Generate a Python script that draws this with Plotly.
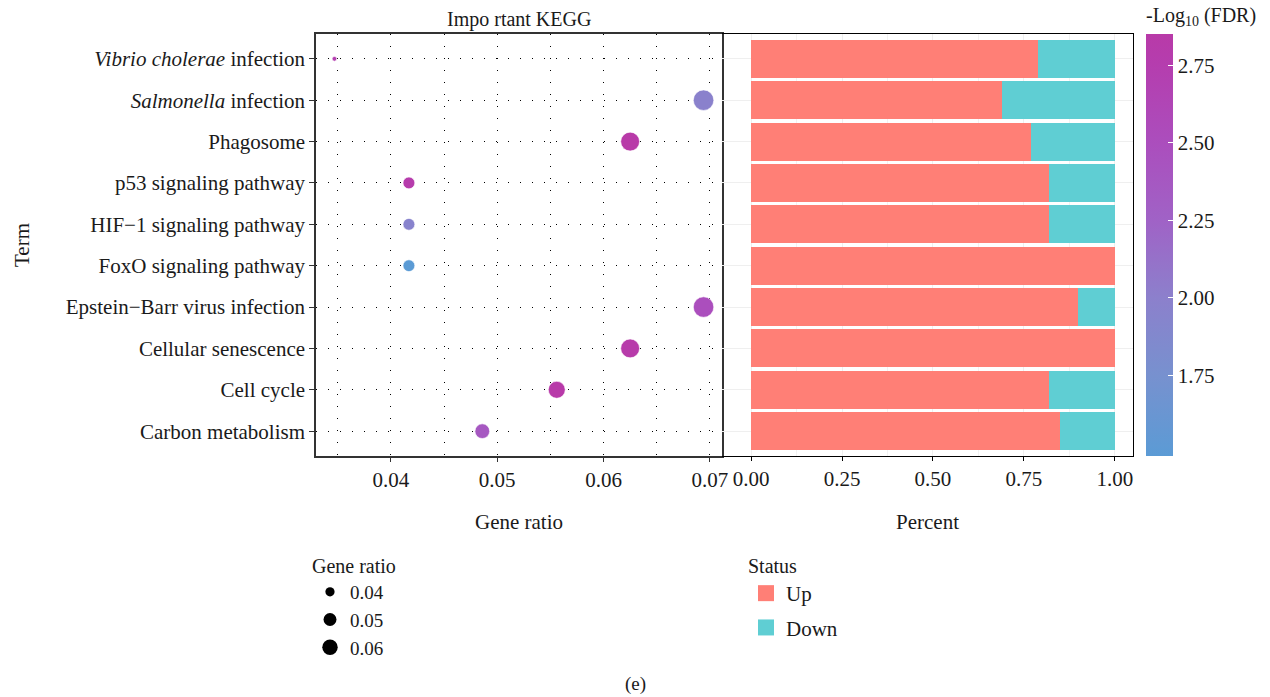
import numpy as np
import plotly.graph_objects as go

# ---------------- data ----------------
terms = ["Carbon metabolism", "Cell cycle", "Cellular senescence",
         "Epstein\u2212Barr virus infection", "FoxO signaling pathway",
         "HIF\u22121 signaling pathway", "p53 signaling pathway", "Phagosome",
         "Salmonella infection", "Vibrio cholerae infection"]
term_labels = ["Carbon metabolism", "Cell cycle", "Cellular senescence",
               "Epstein\u2212Barr virus infection", "FoxO signaling pathway",
               "HIF\u22121 signaling pathway", "p53 signaling pathway", "Phagosome",
               "<i>Salmonella</i> infection", "<i>Vibrio cholerae</i> infection"]
gene_ratio = [0.0486, 0.0556, 0.0625, 0.0694, 0.0417, 0.0417, 0.0417, 0.0625, 0.0694, 0.0347]
neg_log_fdr = [2.38, 2.84, 2.82, 2.50, 1.49, 1.95, 2.78, 2.85, 1.98, 2.72]
up_frac = [0.85, 0.82, 1.00, 0.90, 1.00, 0.82, 0.82, 0.77, 0.69, 0.79]
down_frac = [1 - u for u in up_frac]

size_legend_vals = [0.04, 0.05, 0.06]
status_names = ["Up", "Down"]

x1_ticks = [0.04, 0.05, 0.06, 0.07]
x2_ticks = [0.0, 0.25, 0.5, 0.75, 1.0]
cb_ticks = [1.75, 2.0, 2.25, 2.5, 2.75]

# ---------------- style ----------------
FONT = "Liberation Serif"
TXT = "#1a1a1a"
UP_COL = "#FF7F76"
DOWN_COL = "#5FCED3"
colorscale = [[0.0, "#5B9BD5"], [0.19, "#7791CF"], [0.375, "#8C80CC"],
              [0.56, "#A062C6"], [0.74, "#AB4EBD"], [0.93, "#B53DAE"], [1.0, "#B83AA8"]]
DMIN, DMAX = 4.7, 20.5
rmin, rmax = min(gene_ratio), max(gene_ratio)


def dot_size(r):
    t = np.clip((np.asarray(r, dtype=float) - rmin) / (rmax - rmin), 0, 1)
    return DMIN + (DMAX - DMIN) * np.sqrt(t)


W, H = 1270, 697
px = lambda v: v / W
py = lambda v: 1 - v / H

dot_dom = [px(316), px(722)]
bar_dom = [px(722), px(1133)]
y_dom = [py(456), py(34)]

fig = go.Figure()

# dot plot
fig.add_trace(go.Scatter(
    x=gene_ratio, y=terms, mode="markers", xaxis="x", yaxis="y",
    marker=dict(size=dot_size(gene_ratio), color=neg_log_fdr, colorscale=colorscale,
                line=dict(color="white", width=0.6), opacity=1,
                colorbar=dict(
                    title=dict(text="-Log<sub>10</sub> (FDR)", side="top",
                               font=dict(family=FONT, size=20, color=TXT)),
                    x=px(1146), xanchor="left", y=py(4), yanchor="top",
                    len=(456 - 4) / H, lenmode="fraction", thickness=27,
                    outlinewidth=0, tickvals=cb_ticks, tickformat=".2f",
                    ticks="inside", ticklen=5, tickcolor="white", tickwidth=1,
                    tickfont=dict(family=FONT, size=21, color=TXT), xpad=0, ypad=0)),
    showlegend=False, hoverinfo="x+y"))

# bars
fig.add_trace(go.Bar(x=up_frac, y=terms, orientation="h", xaxis="x2", yaxis="y2",
                     marker=dict(color=UP_COL, line=dict(width=0)), width=0.92,
                     name="Up", showlegend=False))
fig.add_trace(go.Bar(x=down_frac, y=terms, orientation="h", xaxis="x2", yaxis="y2",
                     marker=dict(color=DOWN_COL, line=dict(width=0)), width=0.92,
                     name="Down", showlegend=False))

# size legend
for v in size_legend_vals:
    fig.add_trace(go.Scatter(x=[None], y=[None], mode="markers", xaxis="x", yaxis="y",
                             marker=dict(size=float(dot_size(v)) * 0.85, color="black"),
                             name=f"{v:.2f}", legend="legend", legendgroup=f"g{v}",
                             showlegend=True))
# status legend
for nm, col in zip(status_names, [UP_COL, DOWN_COL]):
    fig.add_trace(go.Scatter(x=[None], y=[None], mode="markers", xaxis="x2", yaxis="y2",
                             marker=dict(size=20, color=col, symbol="square"),
                             name=nm, legend="legend2", legendgroup=nm, showlegend=True))

dot_grid = "1px,11px"
rng_pad = 0.05 * (rmax - rmin)
TICK_FS = 21

fig.update_layout(
    width=W, height=H, margin=dict(l=0, r=0, t=0, b=0, autoexpand=False),
    paper_bgcolor="white", plot_bgcolor="white",
    font=dict(family=FONT, color=TXT, size=20),
    barmode="stack", bargap=0,
    xaxis=dict(domain=dot_dom, anchor="y", range=[rmin - rng_pad, rmax + rng_pad],
               tickvals=x1_ticks, tickformat=".2f", ticks="outside", ticklen=4,
               tickcolor="#333", showline=True, linecolor="#333", linewidth=1.5, mirror=True,
               showgrid=True, gridcolor="black", gridwidth=1, griddash=dot_grid,
               minor=dict(dtick=0.005, tick0=0.035, showgrid=True, gridcolor="black",
                          gridwidth=1, griddash=dot_grid, ticks=""),
               tickfont=dict(family=FONT, size=TICK_FS, color=TXT), zeroline=False),
    yaxis=dict(domain=y_dom, anchor="x", type="category", categoryorder="array",
               categoryarray=terms, range=[-0.6, len(terms) - 0.4],
               tickmode="array", tickvals=terms, ticktext=term_labels,
               ticks="outside", ticklen=5, tickcolor="#333",
               showline=True, linecolor="#333", linewidth=1.5, mirror=True,
               showgrid=True, gridcolor="black", gridwidth=1, griddash=dot_grid,
               tickfont=dict(family=FONT, size=TICK_FS, color=TXT), zeroline=False),
    xaxis2=dict(domain=bar_dom, anchor="y2", range=[-0.08, 1.05],
                tickvals=x2_ticks, tickformat=".2f", ticks="outside", ticklen=4,
                tickcolor="black", showline=True, linecolor="black", linewidth=1.2, mirror=True,
                showgrid=True, gridcolor="#EFEFEF", gridwidth=1,
                minor=dict(dtick=0.125, tick0=0, showgrid=True, gridcolor="#F2F2F2", ticks=""),
                tickfont=dict(family=FONT, size=TICK_FS, color=TXT), zeroline=False),
    yaxis2=dict(domain=y_dom, anchor="x2", type="category", categoryorder="array",
                categoryarray=terms, range=[-0.6, len(terms) - 0.4], showticklabels=False,
                side="right", ticks="", showline=True, linecolor="black", linewidth=1.2,
                mirror=False, showgrid=True, gridcolor="#EFEFEF", zeroline=False),
    legend=dict(title=dict(text="Gene ratio", font=dict(family=FONT, size=20, color=TXT)),
                x=px(310), xanchor="left", y=py(547), yanchor="top",
                font=dict(family=FONT, size=19, color=TXT), tracegroupgap=0,
                itemsizing="trace", bgcolor="rgba(0,0,0,0)"),
    legend2=dict(title=dict(text="Status", font=dict(family=FONT, size=20, color=TXT)),
                 x=px(746), xanchor="left", y=py(547), yanchor="top",
                 font=dict(family=FONT, size=21, color=TXT), tracegroupgap=4,
                 itemsizing="trace", bgcolor="rgba(0,0,0,0)"),
    annotations=[
        dict(text="Impo rtant KEGG", xref="x domain", yref="paper", x=0.5, y=py(20),
             yanchor="middle", showarrow=False, font=dict(family=FONT, size=20, color=TXT)),
        dict(text="Term", xref="paper", yref="paper", x=px(22), y=py(245), textangle=-90,
             xanchor="center", yanchor="middle", showarrow=False,
             font=dict(family=FONT, size=21, color=TXT)),
        dict(text="Gene ratio", xref="x domain", yref="paper", x=0.5, y=py(522),
             yanchor="middle", showarrow=False, font=dict(family=FONT, size=21, color=TXT)),
        dict(text="Percent", xref="x2 domain", yref="paper", x=0.5, y=py(522),
             yanchor="middle", showarrow=False, font=dict(family=FONT, size=21, color=TXT)),
        dict(text="(e)", xref="paper", yref="paper", x=0.5, y=py(684),
             yanchor="middle", showarrow=False, font=dict(family=FONT, size=19, color=TXT)),
    ],
)

fig.write_html("out.html")
